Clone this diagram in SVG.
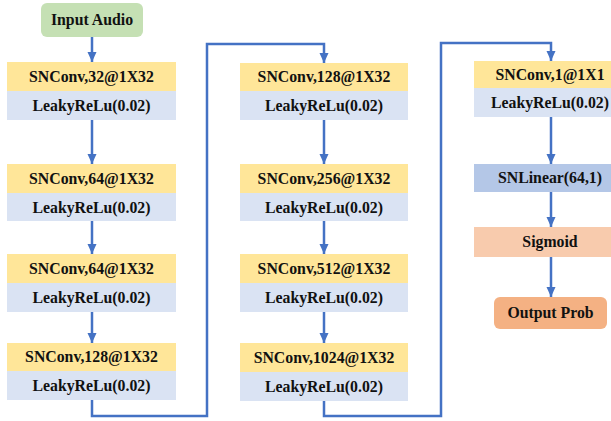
<svg xmlns="http://www.w3.org/2000/svg" width="611" height="421" viewBox="0 0 611 421">
<defs>
<marker id="ah" markerUnits="userSpaceOnUse" markerWidth="10" markerHeight="10" viewBox="0 0 10 10" refX="10" refY="5" orient="auto">
<path d="M0,0.5 L10,5 L0,9.5 z" fill="#4472C4"/>
</marker>
<style>
.conv{fill:#FFE699}
.leaky{fill:#DAE3F3}
.c{fill:none;stroke:#4472C4;stroke-width:2.5}
.a{marker-end:url(#ah)}
</style>
</defs>
<rect width="611" height="421" fill="#fff"/>
<g font-family="Liberation Serif, serif" font-weight="bold" font-size="15.8" fill="#111" text-anchor="middle">
<g id="input"><rect x="41" y="3" width="102" height="34" rx="6" fill="#C5E0B4"/><text x="92" y="25">Input Audio</text></g>
<g id="c1b1"><rect class="conv" x="7" y="62" width="169" height="29"/><rect class="leaky" x="7" y="91" width="169" height="29"/><text x="91.5" y="82">SNConv,32@1X32</text><text x="91.5" y="111">LeakyReLu(0.02)</text></g>
<g id="c1b2"><rect class="conv" x="7" y="164" width="169" height="29"/><rect class="leaky" x="7" y="193" width="169" height="28"/><text x="91.5" y="184">SNConv,64@1X32</text><text x="91.5" y="213">LeakyReLu(0.02)</text></g>
<g id="c1b3"><rect class="conv" x="7" y="254" width="169" height="29"/><rect class="leaky" x="7" y="283" width="169" height="29"/><text x="91.5" y="274">SNConv,64@1X32</text><text x="91.5" y="303">LeakyReLu(0.02)</text></g>
<g id="c1b4"><rect class="conv" x="7" y="343" width="169" height="28"/><rect class="leaky" x="7" y="371" width="169" height="29"/><text x="91.5" y="362">SNConv,128@1X32</text><text x="91.5" y="391">LeakyReLu(0.02)</text></g>
<g id="c2b1"><rect class="conv" x="240" y="63" width="168" height="28"/><rect class="leaky" x="240" y="91" width="168" height="29"/><text x="324" y="82">SNConv,128@1X32</text><text x="324" y="111">LeakyReLu(0.02)</text></g>
<g id="c2b2"><rect class="conv" x="240" y="164" width="168" height="29"/><rect class="leaky" x="240" y="193" width="168" height="28"/><text x="324" y="184">SNConv,256@1X32</text><text x="324" y="213">LeakyReLu(0.02)</text></g>
<g id="c2b3"><rect class="conv" x="240" y="254" width="168" height="29"/><rect class="leaky" x="240" y="283" width="168" height="29"/><text x="324" y="274">SNConv,512@1X32</text><text x="324" y="303">LeakyReLu(0.02)</text></g>
<g id="c2b4"><rect class="conv" x="240" y="343" width="168" height="29"/><rect class="leaky" x="240" y="372" width="168" height="29"/><text x="324" y="363">SNConv,1024@1X32</text><text x="324" y="392">LeakyReLu(0.02)</text></g>
<g id="c3b1"><rect class="conv" x="474" y="61" width="150" height="27"/><rect class="leaky" x="474" y="88" width="150" height="29"/><text x="550" y="80">SNConv,1@1X1</text><text x="550" y="108">LeakyReLu(0.02)</text></g>
<g id="snlinear"><rect x="474" y="164" width="150" height="28" fill="#B4C7E7"/><text x="550" y="183">SNLinear(64,1)</text></g>
<g id="sigmoid"><rect x="474" y="227" width="150" height="30" fill="#F8CBAD"/><text x="550" y="247">Sigmoid</text></g>
<g id="output"><rect x="494" y="297" width="113" height="32" rx="6" fill="#F4B183"/><text x="550.5" y="318">Output Prob</text></g>
</g>
<g id="connectors">
<path class="c a" d="M92,37 V62"/>
<path class="c a" d="M92,120 V164"/>
<path class="c a" d="M92,221 V254"/>
<path class="c a" d="M92,312 V343"/>
<path class="c a" d="M92,400 V416 H207 V44 H324 V63"/>
<path class="c a" d="M324,120 V164"/>
<path class="c a" d="M324,221 V254"/>
<path class="c a" d="M324,312 V343"/>
<path class="c a" d="M324,401 V416 H441 V43 H551 V61"/>
<path class="c a" d="M551,117 V164"/>
<path class="c a" d="M551,192 V227"/>
<path class="c a" d="M551,257 V297"/>
</g>
</svg>
